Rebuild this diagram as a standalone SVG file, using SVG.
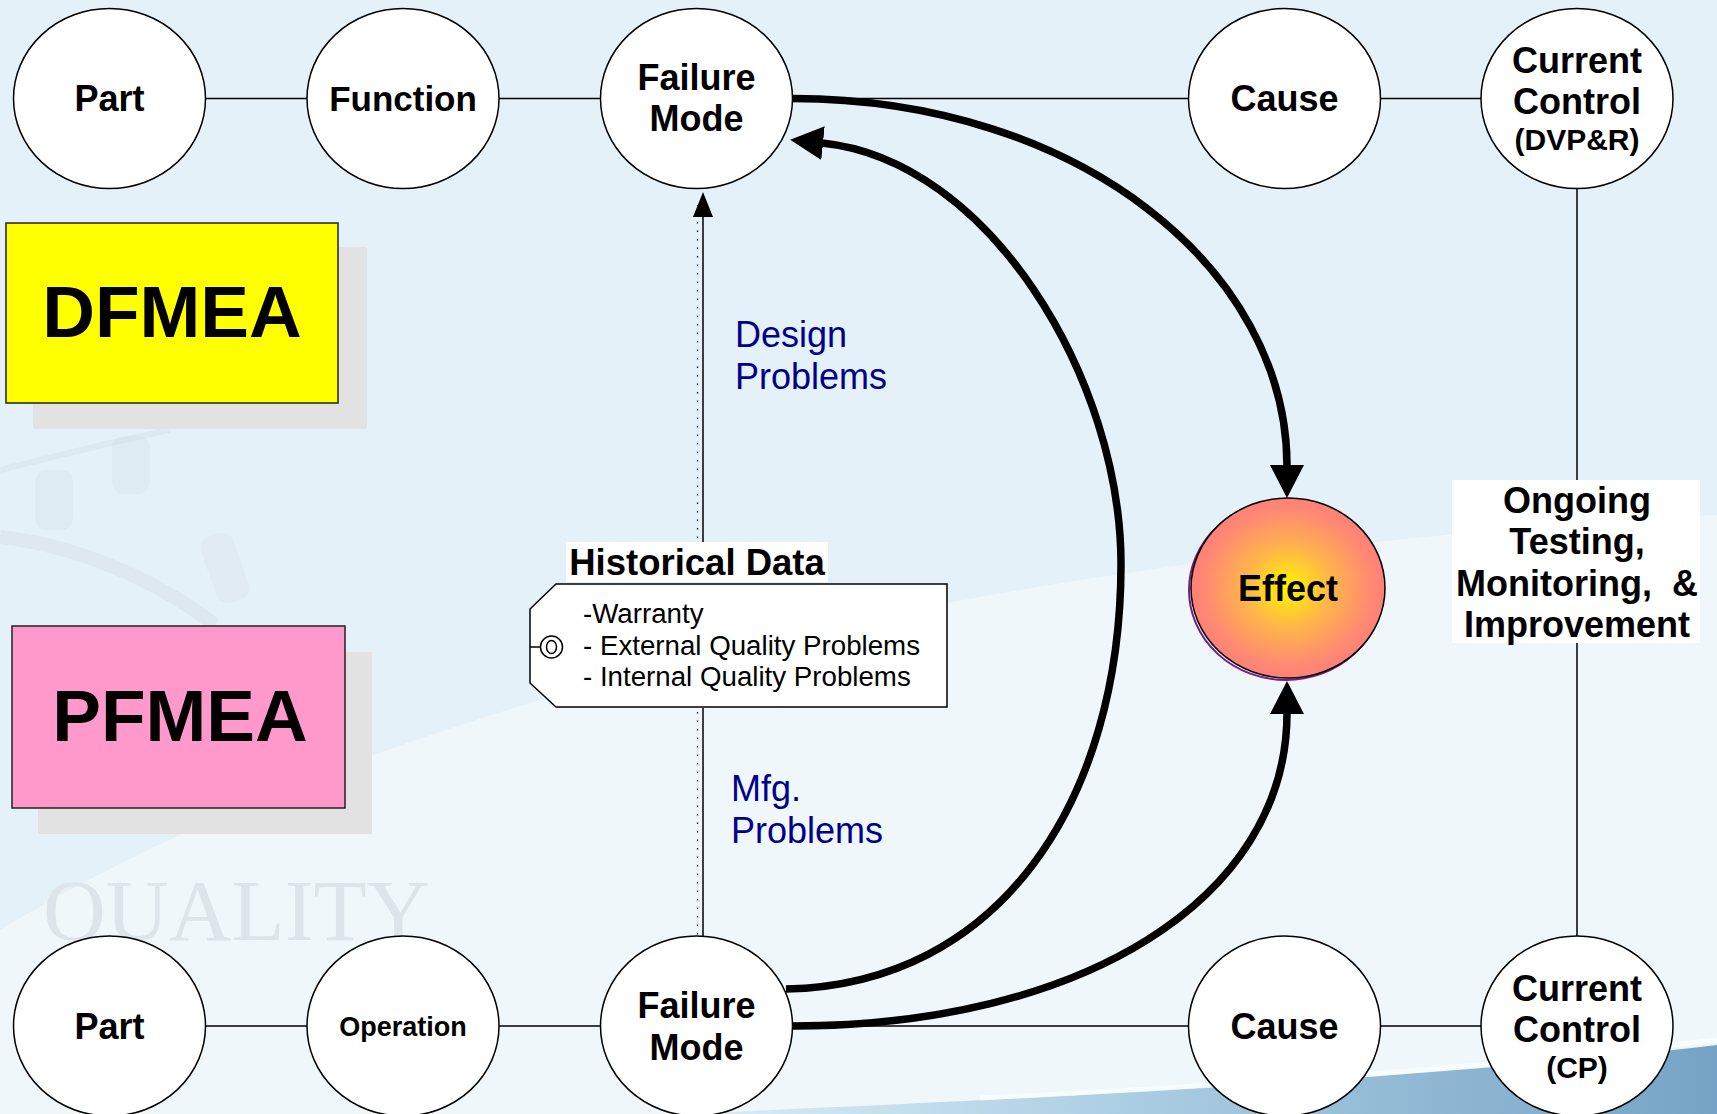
<svg xmlns="http://www.w3.org/2000/svg" width="1717" height="1114" viewBox="0 0 1717 1114">
<defs>
<style>
.node{fill:#fff;stroke:#000;stroke-width:1.5}
.lbl{font-family:"Liberation Sans",Arial,sans-serif;font-weight:bold;font-size:36px;fill:#000;text-anchor:middle}
.sm{font-size:30px}
.blue{font-family:"Liberation Sans",Arial,sans-serif;font-size:36px;fill:#00008B}
.tag{font-family:"Liberation Sans",Arial,sans-serif;font-size:27.7px;fill:#000}
.thin{stroke:#000;stroke-width:1.5;fill:none}
.thick{stroke:#000;stroke-width:7.5;fill:none}
.dot{stroke:#000;stroke-width:1.2;stroke-dasharray:1.5 7;fill:none}
.gear{fill:none;stroke:#CBD5DD;opacity:0.3}
</style>
<radialGradient id="eff" cx="0.5" cy="0.5" r="0.5">
<stop offset="0" stop-color="#FFF500"/>
<stop offset="0.45" stop-color="#FFB44A"/>
<stop offset="0.85" stop-color="#FF8A72"/>
<stop offset="1" stop-color="#FF8078"/>
</radialGradient>
<linearGradient id="swoosh" x1="0" y1="0" x2="1" y2="0">
<stop offset="0" stop-color="#DCEFF7"/>
<stop offset="0.45" stop-color="#A9CCE2"/>
<stop offset="1" stop-color="#76A3C5"/>
</linearGradient>
<marker id="ah" markerUnits="userSpaceOnUse" markerWidth="34" markerHeight="34" refX="1" refY="17" orient="auto" viewBox="0 0 34 34">
<path d="M0,0 L33,17 L0,34 Z" fill="#000"/>
</marker>
<marker id="sa" markerUnits="userSpaceOnUse" markerWidth="25" markerHeight="20" refX="0" refY="10" orient="auto" viewBox="0 0 25 20">
<path d="M0,0 L25,10 L0,20 Z" fill="#000"/>
</marker>
</defs>

<g id="background">
<rect x="0" y="0" width="1717" height="1114" fill="#E5F1F8"/>
<path d="M0 930 C 350 720, 900 560, 1717 515 L1717 1114 L0 1114 Z" fill="#F1F8FB" opacity="0.85"/>
<path class="gear" d="M0 537 C 70 545, 150 575, 215 625" stroke-width="14"/>
<path class="gear" d="M0 470 C 60 455, 120 440, 170 430" stroke-width="6"/>
<rect x="35" y="470" width="38" height="60" rx="12" fill="#CFD8DF" opacity="0.22"/>
<rect x="112" y="436" width="38" height="58" rx="12" fill="#CFD8DF" opacity="0.22"/>
<rect x="208" y="533" width="34" height="70" rx="12" fill="#CFD8DF" opacity="0.2" transform="rotate(-20 225 568)"/>
<text x="43" y="940" font-family="Liberation Serif,serif" font-size="87" fill="#DDE4EA">QUALITY</text>
<path d="M680 1114 C 1000 1100, 1400 1082, 1717 1045 L1717 1114 Z" fill="url(#swoosh)"/>
<path d="M980 1098 C 1300 1082, 1500 1066, 1717 1040" stroke="#FFFFFF" stroke-width="5" fill="none" opacity="0.6"/>
</g>

<g id="connectors">
<line class="thin" x1="205" y1="98.5" x2="307" y2="98.5"/>
<line class="thin" x1="499" y1="98.5" x2="601" y2="98.5"/>
<line class="thin" x1="792" y1="98.5" x2="1189" y2="98.5"/>
<line class="thin" x1="1380" y1="98.5" x2="1481" y2="98.5"/>
<line class="thin" x1="205" y1="1026" x2="307" y2="1026"/>
<line class="thin" x1="499" y1="1026" x2="601" y2="1026"/>
<line class="thin" x1="792" y1="1026" x2="1189" y2="1026"/>
<line class="thin" x1="1380" y1="1026" x2="1481" y2="1026"/>
<line class="thin" x1="1577" y1="188" x2="1577" y2="936"/>
<line class="thin" x1="703" y1="542" x2="703" y2="217" marker-end="url(#sa)"/>
<line class="dot" x1="697.5" y1="205" x2="697.5" y2="542"/>
<line class="thin" x1="703" y1="708" x2="703" y2="936"/>
<line class="dot" x1="697.5" y1="712" x2="697.5" y2="936"/>
<path class="thick" d="M793 98.5 C 1080 99, 1287 270, 1287 466" marker-end="url(#ah)"/>
<path class="thick" d="M786 989 C 1000 985, 1121 800, 1121 564 C 1121 380, 990 160, 822 143" marker-end="url(#ah)"/>
<path class="thick" d="M793 1026 C 1080 1026, 1287 900, 1287 713" marker-end="url(#ah)"/>
</g>

<g id="dfmea">
<rect x="33" y="247" width="334" height="182" fill="#E2E2E2"/>
<rect x="6" y="223" width="332" height="180" fill="#FFFF00" stroke="#222" stroke-width="1.5"/>
<text class="lbl" x="172" y="337" style="font-size:73px">DFMEA</text>
</g>

<g id="pfmea">
<rect x="38" y="652" width="334" height="182" fill="#E2E2E2"/>
<rect x="12" y="626" width="333" height="182" fill="#FF99CC" stroke="#222" stroke-width="1.5"/>
<text class="lbl" x="180" y="741" style="font-size:73px">PFMEA</text>
</g>

<g id="d-part">
<ellipse class="node" cx="109.5" cy="98.5" rx="96" ry="90"/>
<text class="lbl" x="109.5" y="111">Part</text>
</g>
<g id="d-function">
<ellipse class="node" cx="403" cy="98.5" rx="96" ry="90"/>
<text class="lbl" x="403" y="111" style="font-size:35px">Function</text>
</g>
<g id="d-failure-mode">
<ellipse class="node" cx="696.5" cy="98.5" rx="96" ry="90"/>
<text class="lbl" x="696.5" y="89.5">Failure</text>
<text class="lbl" x="696.5" y="130.5">Mode</text>
</g>
<g id="d-cause">
<ellipse class="node" cx="1284.5" cy="98.5" rx="96" ry="90"/>
<text class="lbl" x="1284.5" y="111">Cause</text>
</g>
<g id="d-current-control">
<ellipse class="node" cx="1577" cy="98.5" rx="96" ry="90"/>
<text class="lbl" x="1577" y="72.5">Current</text>
<text class="lbl" x="1577" y="113.5">Control</text>
<text class="lbl sm" x="1577" y="150">(DVP&amp;R)</text>
</g>

<g id="p-part">
<ellipse class="node" cx="109.5" cy="1026" rx="96" ry="90"/>
<text class="lbl" x="109.5" y="1038.5">Part</text>
</g>
<g id="p-operation">
<ellipse class="node" cx="403" cy="1026" rx="96" ry="90"/>
<text class="lbl" x="403" y="1035.5" style="font-size:27px">Operation</text>
</g>
<g id="p-failure-mode">
<ellipse class="node" cx="696.5" cy="1026" rx="96" ry="90"/>
<text class="lbl" x="696.5" y="1017.5">Failure</text>
<text class="lbl" x="696.5" y="1059.5">Mode</text>
</g>
<g id="p-cause">
<ellipse class="node" cx="1284.5" cy="1026" rx="96" ry="90"/>
<text class="lbl" x="1284.5" y="1038.5">Cause</text>
</g>
<g id="p-current-control">
<ellipse class="node" cx="1577" cy="1026" rx="96" ry="90"/>
<text class="lbl" x="1577" y="1000.5">Current</text>
<text class="lbl" x="1577" y="1041.5">Control</text>
<text class="lbl sm" x="1577" y="1078">(CP)</text>
</g>

<g id="effect">
<ellipse cx="1286" cy="590" rx="97" ry="90" fill="none" stroke="#7A1A8A" stroke-width="2"/>
<ellipse cx="1288" cy="588" rx="97" ry="90" fill="url(#eff)" stroke="#000" stroke-width="1.5"/>
<text class="lbl" x="1288" y="601">Effect</text>
</g>

<g id="ongoing">
<rect x="1452" y="480" width="248" height="163" fill="#FFFFFF"/>
<text class="lbl" x="1577" y="513">Ongoing</text>
<text class="lbl" x="1577" y="554">Testing,</text>
<text class="lbl" x="1577" y="596" xml:space="preserve">Monitoring,  &amp;</text>
<text class="lbl" x="1577" y="637">Improvement</text>
</g>

<g id="historical-data">
<rect x="566" y="542" width="262" height="40" fill="#FFFFFF"/>
<text class="lbl" x="697" y="575" style="font-size:36.5px">Historical Data</text>
<polygon points="556,584 947,584 947,707 556,707 530,683 530,609" fill="#FFFFFF" stroke="#000" stroke-width="1.5"/>
<line class="thin" x1="530" y1="647" x2="541" y2="647"/>
<circle cx="551.5" cy="647" r="11" fill="none" stroke="#000" stroke-width="1.5"/>
<ellipse cx="551.5" cy="647" rx="5" ry="6.5" fill="none" stroke="#000" stroke-width="1.5"/>
<text class="tag" x="583" y="623">-Warranty</text>
<text class="tag" x="583" y="655">- External Quality Problems</text>
<text class="tag" x="583" y="686">- Internal Quality Problems</text>
</g>

<g id="labels">
<text class="blue" x="735" y="347">Design</text>
<text class="blue" x="735" y="389">Problems</text>
<text class="blue" x="731" y="801">Mfg.</text>
<text class="blue" x="731" y="843">Problems</text>
</g>
</svg>
